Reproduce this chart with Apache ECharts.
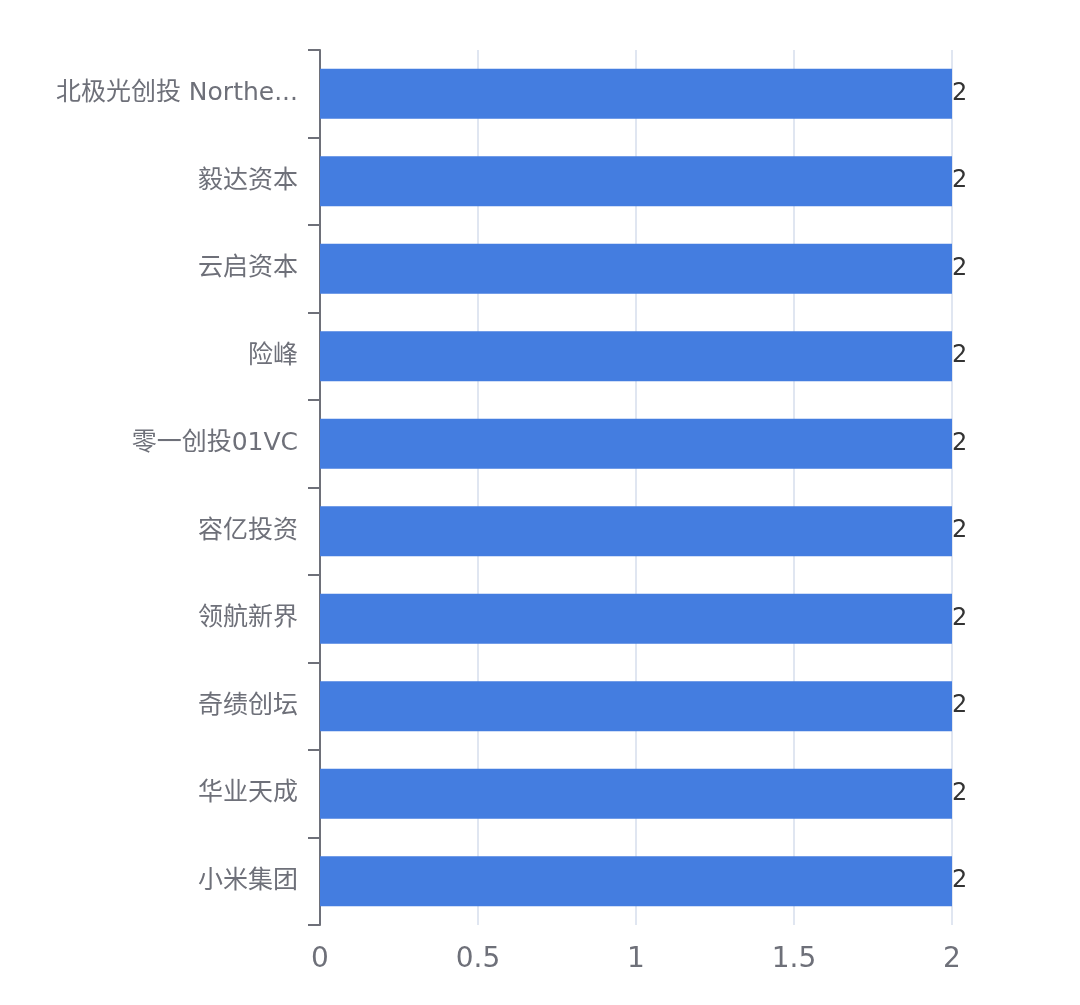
<!DOCTYPE html>
<html>
<head>
<meta charset="utf-8">
<script src="https://cdn.jsdelivr.net/npm/echarts@6/dist/echarts.min.js"></script>
<style>
  html, body { margin: 0; padding: 0; background: #fff; }
  #chart { width: 1080px; height: 1005px; }
</style>
</head>
<body>
<div id="chart"></div>
<script>
// 机构名称（从上到下）
const investors = [
  '北极光创投 Northern Light Venture Capital',
  '毅达资本',
  '云启资本',
  '险峰',
  '零一创投01VC',
  '容亿投资',
  '领航新界',
  '奇绩创坛',
  '华业天成',
  '小米集团'
]
// 投资次数
const counts = [2, 2, 2, 2, 2, 2, 2, 2, 2, 2]

const myChart = echarts.init(document.getElementById('chart'))

myChart.setOption({
  animation: false,
  textStyle: { fontFamily: 'DejaVu Sans, Noto Sans CJK SC, sans-serif' },
  grid: { left: 320, right: 128, top: 50, bottom: 80 },
  xAxis: {
    type: 'value',
    min: 0,
    max: 2,
    interval: 0.5,
    axisLine: { show: false },
    axisTick: { show: false },
    axisLabel: { fontSize: 28, color: '#6e7079', margin: 21 },
    splitLine: { lineStyle: { color: '#e0e6f1', width: 2 } }
  },
  yAxis: {
    type: 'category',
    inverse: true,
    data: investors,
    axisLine: { show: true, lineStyle: { color: '#6e7079', width: 2 } },
    axisTick: { show: true, length: 12, lineStyle: { color: '#6e7079', width: 2 } },
    axisLabel: {
      fontSize: 25,
      color: '#6e7079',
      margin: 22,
      width: 245,
      overflow: 'truncate',
      padding: [3, 0, 0, 0]
    }
  },
  series: [{
    type: 'bar',
    data: counts,
    barWidth: 50,
    itemStyle: { color: '#447de0' },
    label: {
      show: true,
      position: 'right',
      distance: 0,
      fontSize: 24,
      color: '#333',
      padding: [3, 0, 0, 0]
    }
  }]
})
</script>
</body>
</html>
